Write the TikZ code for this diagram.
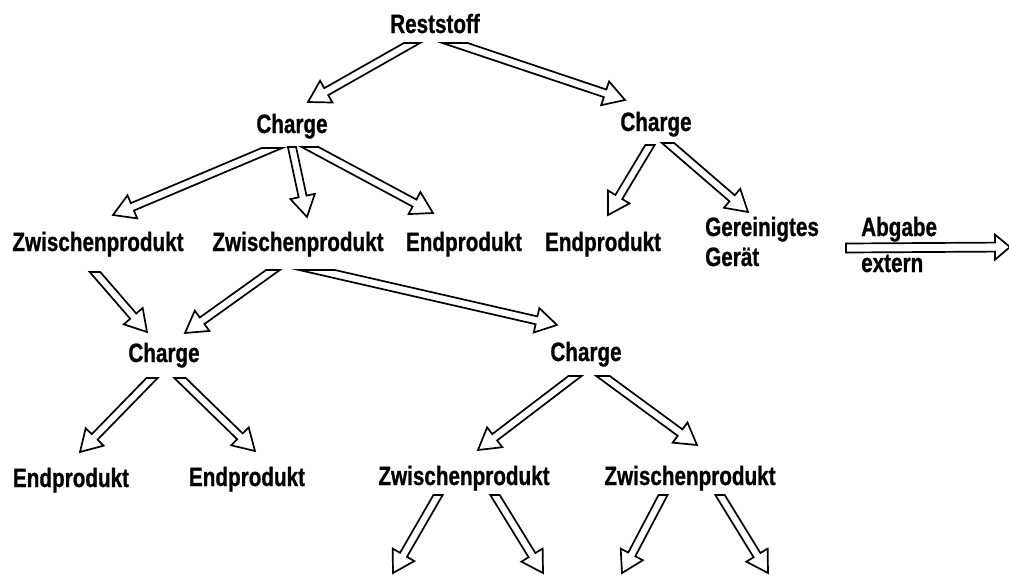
\documentclass[tikz,border=0pt]{standalone}
\usepackage{fontspec}
\setmainfont{Liberation Sans}[FakeStretch=0.78, FakeBold=0.8]
\usetikzlibrary{calc}
\tikzset{
  lbl/.style={font=\fontsize{26.5}{30}\selectfont\bfseries, inner sep=0pt, anchor=base},
  lblw/.style={lbl, anchor=base west},
  hollowarrow/.style={draw=black, line width=1.7pt, fill=white, line join=miter}
}
% hollow block arrow from tail #1 to tip #2, tail cut horizontally
\newcommand\harr[2]{%
  \path ($(#2)!21pt!(#1)$) coordinate (hc)
        ($(hc)!4pt!90:(#2)$) coordinate (hc1)
        ($(hc)!4pt!-90:(#2)$) coordinate (hc2)
        ($(hc)!12.5pt!90:(#2)$) coordinate (hh1)
        ($(hc)!12.5pt!-90:(#2)$) coordinate (hh2)
        ($(#1)!4pt!90:(#2)$) coordinate (ht1)
        ($(#1)!4pt!-90:(#2)$) coordinate (ht2)
        ($(#1)+(10,0)$) coordinate (hx);
  \draw[hollowarrow] (intersection of ht1--hc1 and #1--hx) -- (hc1) -- (hh1) -- (#2)
     -- (hh2) -- (hc2) -- (intersection of ht2--hc2 and #1--hx) -- cycle;
}
% hollow block arrow with square tail and short head
\newcommand\harrs[2]{%
  \path ($(#2)!15pt!(#1)$) coordinate (hc)
        ($(hc)!4.5pt!90:(#2)$) coordinate (hc1)
        ($(hc)!4.5pt!-90:(#2)$) coordinate (hc2)
        ($(hc)!12.5pt!90:(#2)$) coordinate (hh1)
        ($(hc)!12.5pt!-90:(#2)$) coordinate (hh2)
        ($(#1)!4.5pt!90:(#2)$) coordinate (ht1)
        ($(#1)!4.5pt!-90:(#2)$) coordinate (ht2);
  \draw[hollowarrow] (ht1) -- (hc1) -- (hh1) -- (#2) -- (hh2) -- (hc2) -- (ht2) -- cycle;
}
\begin{document}
\begin{tikzpicture}[x=1pt,y=-1pt]
\clip (0,0) rectangle (1009,576);
\fill[white] (0,0) rectangle (1009,576);

% labels
\node[lbl] (rest) at (435,33) {Reststoff};
\node[lbl] (ch1) at (292,133) {Charge};
\node[lbl] (ch2) at (656,131) {Charge};
\node[lbl] (zw1) at (98,251) {Zwischenprodukt};
\node[lbl] (zw2) at (298,251) {Zwischenprodukt};
\node[lbl] (ep3) at (464,251) {Endprodukt};
\node[lbl] (ep4) at (603,251) {Endprodukt};
\node[lblw] (ger1) at (705,236) {Gereinigtes};
\node[lblw] (ger2) at (705,266) {Gerät};
\node[lblw] (abg1) at (861,236) {Abgabe};
\node[lblw] (abg2) at (861,272) {extern};
\node[lbl] (ch3) at (164,362) {Charge};
\node[lbl] (ch4) at (586,361) {Charge};
\node[lbl] (ep5) at (71,487) {Endprodukt};
\node[lbl] (ep6) at (247,486) {Endprodukt};
\node[lbl] (zw3) at (464,485) {Zwischenprodukt};
\node[lbl] (zw4) at (690,485) {Zwischenprodukt};

% connector end points
\coordinate (a1t) at (412,43);  \coordinate (a1h) at (308,102);
\coordinate (a2t) at (455,43);  \coordinate (a2h) at (625,100);
\coordinate (a3t) at (272,148); \coordinate (a3h) at (113,215);
\coordinate (a4t) at (292,147); \coordinate (a4h) at (307,217);
\coordinate (a5t) at (310,147); \coordinate (a5h) at (433,213);
\coordinate (a6t) at (650,145); \coordinate (a6h) at (608,215);
\coordinate (a7t) at (668,143); \coordinate (a7h) at (748,212);
\coordinate (a8t) at (95,272);  \coordinate (a8h) at (147,332);
\coordinate (a9t) at (273,270); \coordinate (a9h) at (185,333);
\coordinate (a10t) at (317,270); \coordinate (a10h) at (557,325);
\coordinate (a11t) at (152,378); \coordinate (a11h) at (80,452);
\coordinate (a12t) at (180,378); \coordinate (a12h) at (255,451);
\coordinate (a13t) at (575,376); \coordinate (a13h) at (478,450);
\coordinate (a14t) at (603,376); \coordinate (a14h) at (697,445);
\coordinate (a15t) at (438,495); \coordinate (a15h) at (393,573);
\coordinate (a16t) at (495,495); \coordinate (a16h) at (543,573);
\coordinate (a17t) at (663,495); \coordinate (a17h) at (622,573);
\coordinate (a18t) at (720,495); \coordinate (a18h) at (768,573);
\coordinate (a19t) at (846,248); \coordinate (a19h) at (1010,247);

\harr{a1t}{a1h}
\harr{a2t}{a2h}
\harr{a3t}{a3h}
\harr{a4t}{a4h}
\harr{a5t}{a5h}
\harr{a6t}{a6h}
\harr{a7t}{a7h}
\harr{a8t}{a8h}
\harr{a9t}{a9h}
\harr{a10t}{a10h}
\harr{a11t}{a11h}
\harr{a12t}{a12h}
\harr{a13t}{a13h}
\harr{a14t}{a14h}
\harr{a15t}{a15h}
\harr{a16t}{a16h}
\harr{a17t}{a17h}
\harr{a18t}{a18h}
\harrs{a19t}{a19h}
\end{tikzpicture}
\end{document}
